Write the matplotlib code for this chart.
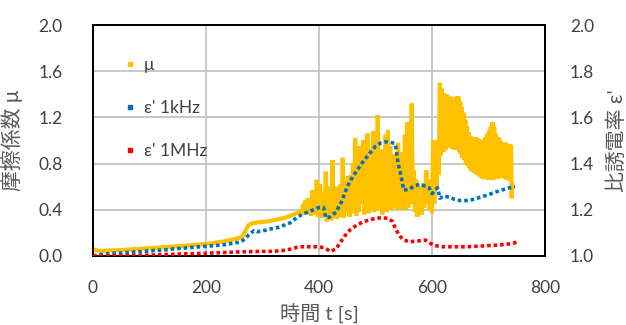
import matplotlib
matplotlib.use("Agg")
import matplotlib.pyplot as plt
from matplotlib.lines import Line2D

plt.rcParams['font.family'] = ['Lato', 'Noto Sans CJK JP', 'DejaVu Sans']

# ---- friction coefficient mu (left axis) ----
mu_t = [0, 5, 10, 20, 30, 40, 50, 60, 70, 80, 90, 100, 110, 120, 130, 140, 150, 160, 170, 180,
        190, 200, 210, 220, 230, 240, 250, 260, 265, 270, 275, 280, 290, 300, 310, 320, 330, 340,
        350, 360, 370,
        372, 374, 376, 378, 380, 382, 384, 386, 388, 390, 392, 394, 396, 398, 400, 402, 404, 406,
        408, 410, 412, 414, 416, 418, 420, 422, 424, 426, 428, 430, 432, 434, 436, 438, 440, 442,
        444, 446, 448, 450, 452, 454, 456, 458, 460, 462, 464, 466, 468, 470, 472, 474, 476, 478,
        480, 482, 484, 486, 488, 490, 492, 494, 496, 498, 500, 502, 504, 506, 508, 510, 512, 514,
        516, 518, 520, 522, 524, 526, 528, 530, 532, 534, 536, 538, 540, 542, 544, 546, 548, 550,
        552, 554, 556, 558, 560, 562, 564, 566, 568, 570, 572, 574, 576, 578, 580, 582, 584, 586,
        588, 590, 592, 594, 596, 598, 600, 602, 604, 606, 608, 610, 612,
        614, 615, 617, 618, 620, 621, 623, 624, 626, 627, 629, 630, 632, 633, 635, 636, 638,
        639, 641, 642, 644, 645, 647, 648, 650, 651, 653, 654, 656, 657, 659, 660, 662, 663, 665,
        666, 668, 669, 671, 672, 674, 675, 677, 678, 680, 681, 683, 684, 686, 687, 689, 690, 692,
        693, 695, 696, 698, 699, 701, 702, 704, 705, 707, 708, 710, 711, 713, 714, 716, 717, 719,
        720, 722, 723, 725, 726, 728, 729, 731, 732, 734, 735, 737, 738, 740, 741, 742]
mu = [0.06, 0.05, 0.045, 0.045, 0.048, 0.05, 0.052, 0.055, 0.058, 0.06, 0.064, 0.068, 0.07,
      0.074, 0.078, 0.08, 0.085, 0.088, 0.092, 0.096, 0.10, 0.105, 0.11, 0.118, 0.125, 0.135,
      0.145, 0.16, 0.175, 0.22, 0.265, 0.28, 0.29, 0.295, 0.30, 0.31, 0.32, 0.33, 0.35, 0.37, 0.39,
      0.45, 0.36, 0.48, 0.37, 0.50, 0.36, 0.47, 0.35, 0.57, 0.36, 0.48, 0.40, 0.66, 0.34, 0.50,
      0.62, 0.33, 0.45, 0.55, 0.36, 0.73, 0.30, 0.52, 0.35, 0.60, 0.31, 0.83, 0.33, 0.55, 0.60,
      0.32, 0.50, 0.34, 0.62, 0.40, 0.85, 0.33, 0.60, 0.38, 0.65, 0.69, 0.34, 0.70, 0.37, 0.80,
      0.40, 1.02, 0.35, 0.90, 0.38, 0.95, 0.45, 0.80, 1.00, 0.36, 0.75, 0.40, 1.06, 0.37, 0.85,
      0.40, 0.80, 1.08, 0.38, 0.70, 0.45, 1.22, 0.40, 0.85, 0.92, 0.36, 0.75, 0.45, 1.05, 0.38,
      1.09, 0.42, 0.95, 0.40, 0.85, 0.88, 0.42, 0.80, 0.40, 0.98, 0.45, 0.90, 0.40, 0.75, 0.45,
      1.05, 0.40, 1.16, 0.42, 1.10, 0.50, 1.32, 0.45, 0.74, 0.38, 0.66, 0.34, 0.60, 0.40, 0.57,
      0.36, 0.63, 0.42, 0.55, 0.74, 0.45, 0.66, 0.40, 0.57, 0.37, 1.00, 0.45, 0.95, 0.60, 1.00,
      0.70,
      1.50, 0.87, 1.45, 0.95, 1.41, 0.90, 1.38, 0.92, 1.40, 0.95, 1.36, 0.94, 1.38, 0.95, 1.35,
      0.93, 1.37, 0.92, 1.36, 0.93, 1.38, 0.92, 1.38, 0.90, 1.34, 0.88, 1.29, 0.85, 1.24, 0.83,
      1.18, 0.80, 1.12, 0.78, 1.07, 0.76, 1.04, 0.74, 1.03, 0.73, 1.03, 0.72, 1.03, 0.71, 1.02,
      0.70, 1.01, 0.69, 1.00, 0.68, 1.00, 0.67, 1.01, 0.67, 1.03, 0.67, 1.06, 0.66, 1.09, 0.66,
      1.12, 0.66, 1.16, 0.66, 1.12, 0.67, 1.06, 0.67, 1.03, 0.67, 1.02, 0.68, 0.99, 0.68, 0.98,
      0.68, 0.98, 0.67, 0.98, 0.66, 0.97, 0.66, 0.97, 0.65, 0.96, 0.50, 0.62]

# ---- relative permittivity (right axis) ----
eps1k_t = [0, 10, 20, 30, 40, 50, 60, 70, 80, 90, 100, 110, 120, 130, 140, 150, 160, 170, 180,
           190, 200, 210, 220, 230, 240, 250, 260, 270, 275, 280, 285, 290, 300, 310, 320, 330,
           340, 350, 360, 370, 380, 390, 400, 408, 412, 420, 430, 440, 450, 460, 470, 480, 490,
           500, 510, 520, 530, 535, 540, 545, 550, 560, 570, 580, 590, 595, 600, 605, 610, 614,
           620, 630, 640, 650, 660, 670, 680, 690, 700, 710, 720, 730, 740, 747]
eps1k = [1.000, 1.005, 1.008, 1.010, 1.012, 1.013, 1.015, 1.017, 1.018, 1.020, 1.022, 1.024,
         1.025, 1.027, 1.030, 1.032, 1.034, 1.036, 1.038, 1.040, 1.042, 1.044, 1.046, 1.048,
         1.052, 1.056, 1.060, 1.075, 1.090, 1.100, 1.110, 1.105, 1.108, 1.115, 1.120, 1.125,
         1.135, 1.145, 1.165, 1.180, 1.190, 1.200, 1.210, 1.210, 1.165, 1.170, 1.190, 1.235,
         1.300, 1.345, 1.380, 1.415, 1.445, 1.475, 1.490, 1.495, 1.490, 1.485, 1.400, 1.350,
         1.285, 1.290, 1.305, 1.310, 1.300, 1.295, 1.270, 1.285, 1.295, 1.250, 1.260, 1.255,
         1.245, 1.240, 1.240, 1.243, 1.250, 1.258, 1.265, 1.275, 1.283, 1.290, 1.297, 1.300]

eps1m_t = [0, 20, 40, 60, 80, 100, 120, 140, 160, 180, 200, 220, 240, 260, 280, 300, 320, 340,
           350, 360, 366, 380, 400, 410, 420, 430, 437, 445, 455, 467, 480, 495, 510, 522, 530,
           535, 542, 549, 560, 575, 588, 597, 605, 620, 640, 660, 680, 700, 720, 735, 745, 750]
eps1m = [1.000, 1.000, 1.001, 1.002, 1.003, 1.004, 1.006, 1.007, 1.009, 1.010, 1.012, 1.014,
         1.016, 1.018, 1.019, 1.020, 1.020, 1.025, 1.030, 1.037, 1.040, 1.040, 1.040, 1.035,
         1.020, 1.030, 1.056, 1.085, 1.113, 1.134, 1.150, 1.160, 1.166, 1.163, 1.150, 1.120,
         1.090, 1.070, 1.062, 1.065, 1.069, 1.055, 1.045, 1.040, 1.040, 1.040, 1.042, 1.045,
         1.048, 1.052, 1.056, 1.060]

x_ticks = [0, 200, 400, 600, 800]
left_ticks = [0.0, 0.4, 0.8, 1.2, 1.6, 2.0]
right_ticks = [1.0, 1.2, 1.4, 1.6, 1.8, 2.0]

c_mu = '#FFC000'
c_1k = '#0070C0'
c_1m = '#FF0000'
txt = '#404040'

fig = plt.figure(figsize=(6.26, 3.25), dpi=100)
ax = fig.add_axes([93/626, 1-256/325, (545-93)/626, (256-25)/325])
ax2 = ax.twinx()

ax.set_xlim(0, 800)
ax.set_ylim(0, 2.0)
ax2.set_ylim(1.0, 2.0)
ax.set_xticks(x_ticks)
ax.set_yticks(left_ticks)
ax2.set_yticks(right_ticks)
ax.set_xticklabels([str(v) for v in x_ticks])
ax.set_yticklabels([f"{v:.1f}" for v in left_ticks])
ax2.set_yticklabels([f"{v:.1f}" for v in right_ticks])

ax.grid(True, color='#BFBFBF', lw=1.2)
ax.set_axisbelow(True)

ax.plot(mu_t, mu, color=c_mu, lw=3.0, solid_joinstyle='miter', zorder=3)
ax2.plot(eps1k_t, eps1k, color=c_1k, lw=2.6, ls=(0, (1.0, 0.8)), zorder=4)
ax2.plot(eps1m_t, eps1m, color=c_1m, lw=2.6, ls=(0, (1.0, 0.8)), zorder=4)

for a in (ax, ax2):
    for s in a.spines.values():
        s.set_color('black')
        s.set_linewidth(1.3)
ax.tick_params(axis='both', length=0, labelsize=12.5, colors=txt)
ax.tick_params(axis='y', pad=22)
ax.tick_params(axis='x', pad=17)
ax2.tick_params(axis='y', length=0, labelsize=12.5, colors=txt, pad=18)

ax.set_xlabel('時間 t [s]', fontsize=14.5, color='#595959', labelpad=6)
ax.set_ylabel('摩擦係数 μ', fontsize=15, color='#595959', labelpad=4)
ax2.set_ylabel("比誘電率 ε'", fontsize=15, color='#595959', labelpad=8, rotation=90)
ax.yaxis.set_label_coords(-0.155, 0.5)
ax2.yaxis.set_label_coords(1.138, 0.5)

handles = [Line2D([], [], ls='none', marker='s', ms=3.2, color=c_mu),
           Line2D([], [], ls='none', marker='s', ms=3.2, color=c_1k),
           Line2D([], [], ls='none', marker='s', ms=3.2, color=c_1m)]
leg = ax2.legend(handles, ['μ', "ε' 1kHz", "ε' 1MHz"], loc='upper left',
                 bbox_to_anchor=(0.035, 0.93), frameon=False, fontsize=12.5,
                 labelspacing=1.55, handlelength=0.6, handletextpad=0.5,
                 labelcolor=txt)

fig.savefig('out.png', dpi=100)
